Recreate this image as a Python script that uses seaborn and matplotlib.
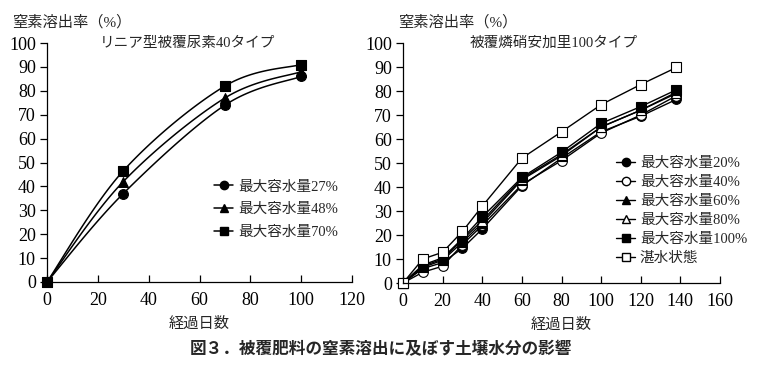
import numpy as np
import matplotlib
matplotlib.use("Agg")
import matplotlib.pyplot as plt
import seaborn as sns
from matplotlib.lines import Line2D

# ---- data ----
days_left = [0, 30, 70, 100]
left_27 = [0, 37, 74, 86]
left_48 = [0, 42, 77, 88]
left_70 = [0, 46.5, 82, 91]
left_labels = ["最大容水量27%", "最大容水量48%", "最大容水量70%"]

days_right = [0, 10, 20, 30, 40, 60, 80, 100, 120, 138]
right_20 = [0, 6, 8.5, 14.5, 22.5, 40.5, 52, 63, 69.5, 76.5]
right_40 = [0, 4.5, 7, 16, 24, 41, 51, 62.5, 70, 78]
right_60 = [0, 6.5, 9.5, 17, 25, 43, 53, 65, 72, 79.5]
right_80 = [0, 7, 10, 18, 26, 43.5, 53.5, 65, 72, 79]
right_100 = [0, 7.5, 10.5, 18.5, 27.5, 44, 54.5, 66.5, 73.5, 80.5]
right_flood = [0, 10, 12.8, 21.5, 32, 52, 63, 74.3, 82.7, 89.8]
right_labels = ["最大容水量20%", "最大容水量40%", "最大容水量60%",
                "最大容水量80%", "最大容水量100%", "湛水状態"]

ylabel = "窒素溶出率（%）"
xlabel = "経過日数"
title_left = "リニア型被覆尿素40タイプ"
title_right = "被覆燐硝安加里100タイプ"
caption = "図３．被覆肥料の窒素溶出に及ぼす土壌水分の影響"

sns.set_theme(style="white")
plt.rcParams['font.family'] = ['Liberation Serif', 'Noto Sans CJK JP']
plt.rcParams['mathtext.default'] = 'regular'

fig = plt.figure(figsize=(7.6, 3.71), dpi=100)
axL = fig.add_axes([47/760, 89/371, 305/760, 239/371])
axR = fig.add_axes([403/760, 88/371, 317/760, 240/371])


def smooth(x, y, n=30):
    P = np.column_stack([x, y]).astype(float)
    m = len(P)
    out = [P[0]]
    for i in range(m - 1):
        p0 = P[i - 1] if i > 0 else P[i]
        p1 = P[i]
        p2 = P[i + 1]
        p3 = P[i + 2] if i + 2 < m else P[i + 1]
        c1 = p1 + (p2 - p0) / 6
        c2 = p2 - (p3 - p1) / 6
        t = np.linspace(0, 1, n)[1:, None]
        seg = ((1 - t) ** 3) * p1 + 3 * ((1 - t) ** 2) * t * c1 + 3 * (1 - t) * t ** 2 * c2 + t ** 3 * p2
        out.extend(seg)
    out = np.array(out)
    return out[:, 0], out[:, 1]


left_series = [left_27, left_48, left_70]
left_markers = ["o", "^", "s"]
handlesL = []
for ys, mk, lab in zip(left_series, left_markers, left_labels):
    sx, sy = smooth(days_left, ys)
    sns.lineplot(x=sx, y=sy, ax=axL, color="black", lw=1.1, sort=False, estimator=None)
    sns.scatterplot(x=days_left, y=ys, ax=axL, marker=mk, color="black", s=50,
                    edgecolor="black", linewidth=0.8, zorder=3)
    handlesL.append(Line2D([], [], color="black", lw=1.1, marker=mk, markersize=6,
                           markerfacecolor="black", label=lab))

right_series = [right_20, right_40, right_60, right_80, right_100, right_flood]
right_markers = ["o", "o", "^", "^", "s", "s"]
right_fill = ["black", "white", "black", "white", "black", "white"]
handlesR = []
for ys, mk, fc, lab in zip(right_series, right_markers, right_fill, right_labels):
    sns.lineplot(x=days_right, y=ys, ax=axR, color="black", lw=1.0, marker=mk,
                 markersize=7, markerfacecolor=fc, markeredgecolor="black",
                 markeredgewidth=0.8, estimator=None)
    handlesR.append(Line2D([], [], color="black", lw=1.0, marker=mk, markersize=6,
                           markerfacecolor=fc, markeredgecolor="black", label=lab))

for ax, xmax, xstep in [(axL, 120, 20), (axR, 160, 20)]:
    ax.set_xlim(0, xmax)
    ax.set_ylim(0, 100)
    ax.set_xticks(np.arange(0, xmax + 1, xstep))
    ax.set_yticks(np.arange(0, 101, 10))
    for s in ["top", "right"]:
        ax.spines[s].set_visible(False)
    for s in ["left", "bottom"]:
        ax.spines[s].set_color("black")
        ax.spines[s].set_linewidth(0.9)
    ax.tick_params(axis="y", direction="out", length=5, width=0.9, labelsize=13,
                   left=True, pad=3, colors="black")
    ax.tick_params(axis="x", direction="in", length=5, width=0.9, labelsize=13,
                   bottom=True, pad=7, colors="black")
    ax.set_xlabel(xlabel, fontsize=11, labelpad=6)
    ax.set_ylabel("")
    ax.patch.set_alpha(0)
    for m in ax.collections + ax.lines:
        m.set_clip_on(False)

axL.text(0.46, 1.0, title_left, transform=axL.transAxes, ha="center", va="center", fontsize=10.5)
axR.text(0.475, 1.0, title_right, transform=axR.transAxes, ha="center", va="center", fontsize=10.5)
fig.text(12/760, 1 - 22/371, ylabel, ha="left", va="center", fontsize=11)
fig.text(398/760, 1 - 22/371, ylabel, ha="left", va="center", fontsize=11)

legL = axL.legend(handles=handlesL, loc="upper left", bbox_to_anchor=(0.53, 0.45),
                  frameon=False, fontsize=10.5, handlelength=1.3, handletextpad=0.3,
                  labelspacing=0.65, borderaxespad=0)
legR = axR.legend(handles=handlesR, loc="upper left", bbox_to_anchor=(0.655, 0.55),
                  frameon=False, fontsize=10.5, handlelength=1.3, handletextpad=0.3,
                  labelspacing=0.4, borderaxespad=0)

fig.text(381/760, 1 - 349/371, caption, ha="center", va="center", fontsize=12,
         fontweight="bold", family=["Noto Sans CJK JP", "DejaVu Sans"])

fig.savefig("out.png", dpi=100, facecolor="white")
